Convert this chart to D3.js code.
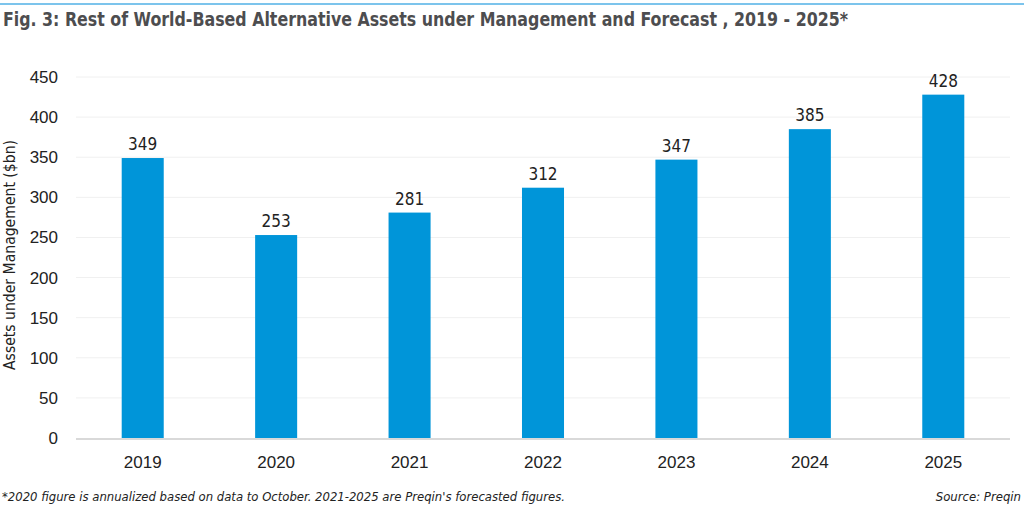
<!DOCTYPE html>
<html><head><meta charset="utf-8">
<script src="https://cdn.jsdelivr.net/npm/d3@7"></script>
<style>body{margin:0;background:#fff}svg{display:block}</style>
</head><body>
<svg id="c" width="1024" height="512"></svg>
<script>
const categories = ["2019","2020","2021","2022","2023","2024","2025"];
const values = [349,253,281,312,347,385,428];
const yTicks = [0,50,100,150,200,250,300,350,400,450];
const title = "Fig. 3: Rest of World-Based Alternative Assets under Management and Forecast , 2019 - 2025*";
const yLabel = "Assets under Management ($bn)";
const note = "*2020 figure is annualized based on data to October. 2021-2025 are Preqin's forecasted figures.";
const source = "Source: Preqin";

const FONT = "'DejaVu Sans Condensed','DejaVu Sans',sans-serif";
const svg = d3.select("#c").style("font-family", FONT).style("font-stretch","condensed");
const m = {l:76, r:1010, t:77, b:438};

svg.append("rect").attr("x",0).attr("y",3).attr("width",1024).attr("height",2).attr("fill","#7cc4ec");
svg.append("text").attr("x",3).attr("y",26).attr("font-size",20).attr("font-weight",600).attr("fill","#4d4d4f")
  .attr("textLength",845).attr("lengthAdjust","spacingAndGlyphs").text(title);

const x = d3.scaleBand().domain(categories).range([m.l,m.r]).paddingInner(0.685).paddingOuter(0.3425);
const y = d3.scaleLinear().domain([0,450]).range([m.b,m.t]);

svg.append("g").selectAll("line").data(yTicks.filter(d=>d>0)).join("line")
  .attr("x1",m.l).attr("x2",m.r).attr("y1",d=>y(d)).attr("y2",d=>y(d))
  .attr("stroke","#f0f0f0").attr("stroke-width",1);

const ya = svg.append("g").attr("transform",`translate(${m.l},0)`)
  .call(d3.axisLeft(y).tickValues(yTicks).tickSize(0).tickPadding(18));
ya.select(".domain").remove();
ya.selectAll("text").attr("font-size",17).attr("fill","#222");

svg.append("g").selectAll("rect").data(values).join("rect")
  .attr("x",(d,i)=>x(categories[i])).attr("width",x.bandwidth())
  .attr("y",d=>y(d)).attr("height",d=>y(0)-y(d)).attr("fill","#0095d9");

svg.append("g").selectAll("text").data(values).join("text")
  .attr("x",(d,i)=>x(categories[i])+x.bandwidth()/2).attr("y",d=>y(d)-8)
  .attr("text-anchor","middle").attr("font-size",17).attr("fill","#222").text(d=>d);

svg.append("line").attr("x1",m.l).attr("x2",m.r).attr("y1",y(0)+1).attr("y2",y(0)+1)
  .attr("stroke","#d9d9d9").attr("stroke-width",2);

const xa = svg.append("g").attr("transform",`translate(0,${m.b})`)
  .call(d3.axisBottom(x).tickSize(0).tickPadding(18));
xa.select(".domain").remove();
xa.selectAll("text").attr("font-size",17).attr("fill","#222");

svg.append("text").attr("transform",`translate(15,255) rotate(-90)`)
  .attr("text-anchor","middle").attr("font-size",15.5).attr("fill","#222")
  .attr("textLength",230).attr("lengthAdjust","spacingAndGlyphs").text(yLabel);

svg.append("text").attr("x",2).attr("y",501).attr("font-size",13).attr("font-style","italic").attr("fill","#222")
  .attr("textLength",563).attr("lengthAdjust","spacingAndGlyphs").text(note);
svg.append("text").attr("x",1021).attr("y",501).attr("text-anchor","end").attr("font-size",13).attr("font-style","italic").attr("fill","#222").text(source);
</script>
</body></html>
